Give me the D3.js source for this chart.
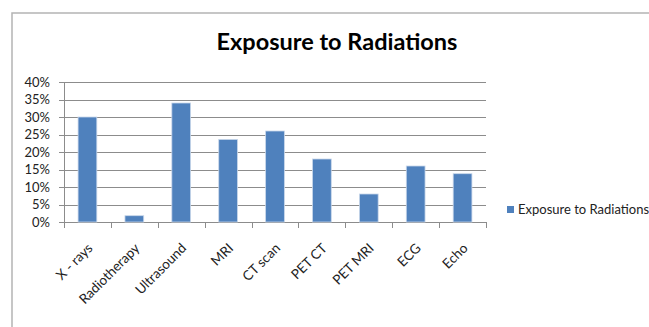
<!DOCTYPE html>
<html>
<head>
<meta charset="utf-8">
<script src="https://cdn.jsdelivr.net/npm/d3@7"></script>
<style>
  html, body { margin: 0; padding: 0; background: #fff; }
  svg { display: block; font-family: Lato, "Open Sans", sans-serif; }
</style>
</head>
<body>
<div id="chart"></div>
<script>
// bar chart - exposure to radiations by imaging type

const categories = ['X - rays', 'Radiotherapy', 'Ultrasound', 'MRI', 'CT scan', 'PET CT', 'PET MRI', 'ECG', 'Echo'];
const values = [0.30, 0.018, 0.34, 0.236, 0.26, 0.18, 0.08, 0.16, 0.138];
const yTicks = [0, 0.05, 0.10, 0.15, 0.20, 0.25, 0.30, 0.35, 0.40];
const seriesName = 'Exposure to Radiations';

const width = 649, height = 327;
const margin = { top: 82, left: 64, right: 163, bottom: 105 };

const svg = d3.select('#chart').append('svg')
  .attr('width', width)
  .attr('height', height);

// outer frame (runs off the right and bottom edge)
svg.append('rect')
  .attr('x', 12).attr('y', 13)
  .attr('width', width).attr('height', height)
  .attr('fill', 'none')
  .attr('stroke', '#b4b4b4')
  .attr('stroke-width', 1.5);

const x = d3.scaleBand()
  .domain(categories)
  .range([margin.left, width - margin.right])
  .paddingInner(0.6)
  .paddingOuter(0.3);

const y = d3.scaleLinear()
  .domain([0, 0.4])
  .range([height - margin.bottom, margin.top]);

// gridlines
svg.append('g')
  .selectAll('line')
  .data(yTicks)
  .enter()
  .append('line')
  .attr('x1', margin.left - 5)
  .attr('x2', width - margin.right)
  .attr('y1', d => Math.round(y(d)) + 0.5)
  .attr('y2', d => Math.round(y(d)) + 0.5)
  .attr('stroke', '#8c8c8c')
  .attr('stroke-width', 1.2);

// y axis line
svg.append('line')
  .attr('x1', margin.left + 0.5).attr('x2', margin.left + 0.5)
  .attr('y1', y(0.4)).attr('y2', y(0))
  .attr('stroke', '#8c8c8c');

// y labels
svg.append('g')
  .selectAll('text')
  .data(yTicks)
  .enter()
  .append('text')
  .attr('x', margin.left - 14)
  .attr('y', d => y(d))
  .attr('dy', '0.35em')
  .attr('text-anchor', 'end')
  .attr('fill', '#222')
  .style('font-size', '13px')
  .text(d => d3.format('.0%')(d));

// x category ticks (between bands)
const step = x.step();
const x0 = margin.left;
svg.append('g')
  .selectAll('line')
  .data(d3.range(categories.length + 1))
  .enter()
  .append('line')
  .attr('x1', i => Math.round(x0 + i * step) + 0.5)
  .attr('x2', i => Math.round(x0 + i * step) + 0.5)
  .attr('y1', y(0))
  .attr('y2', y(0) + 6)
  .attr('stroke', '#8c8c8c');

// bars
svg.append('g')
  .selectAll('rect')
  .data(values)
  .enter()
  .append('rect')
  .attr('x', (d, i) => x(categories[i]))
  .attr('y', d => y(d))
  .attr('width', x.bandwidth())
  .attr('height', d => y(0) - y(d))
  .attr('fill', '#4f81bd')
  .attr('stroke', '#c9d7ea')
  .attr('stroke-width', 0.8);

// x labels, rotated
svg.append('g')
  .selectAll('text')
  .data(categories)
  .enter()
  .append('text')
  .attr('transform', d => `translate(${x(d) + x.bandwidth() / 2 + 6},${y(0) + 27}) rotate(-45)`)
  .attr('text-anchor', 'end')
  .attr('fill', '#222')
  .style('font-size', '13.5px')
  .text(d => d);

// title
svg.append('text')
  .attr('x', 337)
  .attr('y', 50)
  .attr('text-anchor', 'middle')
  .attr('fill', '#000')
  .style('font-size', '23.5px')
  .style('font-weight', 'bold')
  .text(seriesName);

// legend
const legend = svg.append('g').attr('transform', 'translate(507,206)');
legend.append('rect')
  .attr('width', 7).attr('height', 7)
  .attr('fill', '#4f81bd');
legend.append('text')
  .attr('x', 11)
  .attr('y', 3.5)
  .attr('dy', '0.35em')
  .attr('fill', '#222')
  .style('font-size', '13px')
  .text(seriesName);
</script>
</body>
</html>
